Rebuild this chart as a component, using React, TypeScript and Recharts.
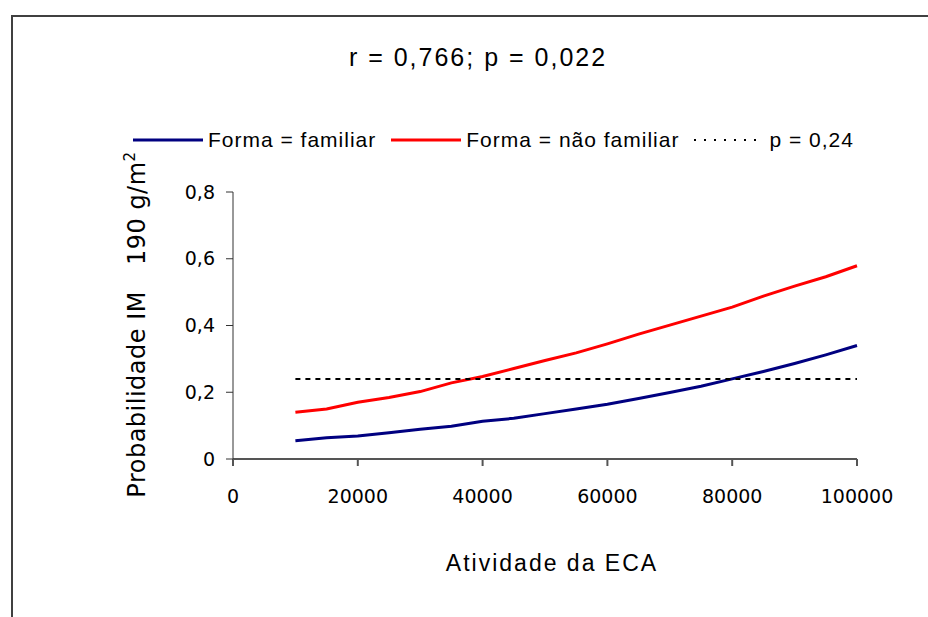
import { LineChart, Line, XAxis, YAxis, Customized } from "recharts";

// Atividade da ECA (eixo X)
const xValues = [
  10000, 15000, 20000, 25000, 30000, 35000, 40000, 45000, 50000, 55000,
  60000, 65000, 70000, 75000, 80000, 85000, 90000, 95000, 100000,
];
// Forma = familiar
const familiar = [
  0.055, 0.064, 0.069, 0.079, 0.089, 0.098, 0.113, 0.122, 0.136, 0.15,
  0.164, 0.181, 0.199, 0.218, 0.24, 0.262, 0.286, 0.312, 0.34,
];
// Forma = não familiar
const naoFamiliar = [
  0.14, 0.15, 0.17, 0.184, 0.202, 0.228, 0.247, 0.271, 0.295, 0.318,
  0.345, 0.374, 0.401, 0.428, 0.455, 0.488, 0.518, 0.546, 0.579,
];
const pLevel = 0.24;

const xTicks = [0, 20000, 40000, 60000, 80000, 100000];
const yTicks = [0, 0.2, 0.4, 0.6, 0.8];

const series = [
  { key: "familiar", name: "Forma = familiar", color: "#000080", dash: undefined, width: 3 },
  { key: "naoFamiliar", name: "Forma = não familiar", color: "#ff0000", dash: undefined, width: 3 },
  { key: "p", name: "p = 0,24", color: "#000000", dash: "5 5", width: 2 },
];

const data = xValues.map((x, i) => ({
  x,
  familiar: familiar[i],
  naoFamiliar: naoFamiliar[i],
  p: pLevel,
}));

const W = 928;
const H = 617;
const tickStyle = { fontFamily: "DejaVu Sans", fontSize: 19, fill: "#000" };
const fmtY = (v: number) => (v === 0 ? "0" : String(v).replace(".", ","));

function Title() {
  return (
    <text
      x={478}
      y={66}
      textAnchor="middle"
      fontFamily="Liberation Sans"
      fontSize={25}
      letterSpacing={2}
      fill="#000"
    >
      r = 0,766; p = 0,022
    </text>
  );
}

function YLabel(props: any) {
  const vb = props.viewBox || { x: 173, y: 192, width: 60, height: 267 };
  const bx = vb.x - 28;
  const cy = vb.y + vb.height / 2 - 1;
  return (
    <text
      x={bx}
      y={cy}
      transform={`rotate(-90, ${bx}, ${cy})`}
      textAnchor="middle"
      fontFamily="DejaVu Sans"
      fontSize={24}
      letterSpacing={0.5}
      fill="#000"
    >
      <tspan>Probabilidade IM</tspan>
      <tspan dx={26}>190 g/m</tspan>
      <tspan dy={-10} fontSize={15}>2</tspan>
    </text>
  );
}

function XLabel(props: any) {
  const vb = props.viewBox || { x: 233, y: 459, width: 624, height: 30 };
  return (
    <text
      x={vb.x + vb.width / 2 + 7}
      y={vb.y + 112}
      textAnchor="middle"
      fontFamily="Liberation Sans"
      fontSize={23}
      letterSpacing={2}
      fill="#000"
    >
      Atividade da ECA
    </text>
  );
}

function LegendRow() {
  return (
    <div
      style={{
        position: "absolute",
        left: 133,
        top: 128,
        display: "flex",
        alignItems: "center",
        fontFamily: "Liberation Sans",
        fontSize: 21,
        letterSpacing: 1,
        whiteSpace: "nowrap",
        lineHeight: "24px",
      }}
    >
      {series.map((s) => (
        <div key={s.key} style={{ display: "flex", alignItems: "center", marginRight: 15 }}>
          <svg width={70} height={10}>
            <line
              x1={0}
              y1={5}
              x2={70}
              y2={5}
              stroke={s.color}
              strokeWidth={s.dash ? 2 : 3}
              strokeDasharray={s.dash ? "2 8" : undefined}
            />
          </svg>
          <span style={{ marginLeft: 5 }}>{s.name}</span>
        </div>
      ))}
    </div>
  );
}

export default function App() {
  return (
    <div style={{ position: "relative", width: W, height: H, overflow: "hidden" }}>
      <style>{"body{margin:0;overflow:hidden}"}</style>
      <div
        style={{
          position: "absolute",
          left: 11,
          top: 15,
          width: 917,
          height: 602,
          borderTop: "2px solid #404040",
          borderLeft: "2px solid #404040",
          boxSizing: "border-box",
        }}
      />
      <LineChart
        width={W}
        height={H}
        data={data}
        margin={{ top: 192, right: 71, bottom: 128, left: 173 }}
      >
        <XAxis
          dataKey="x"
          type="number"
          domain={[0, 100000]}
          ticks={xTicks}
          height={30}
          tickSize={7}
          tickMargin={24}
          tick={tickStyle}
          stroke="#555"
          strokeWidth={2}
          interval={0}
          label={<XLabel />}
        />
        <YAxis
          type="number"
          domain={[0, 0.8]}
          ticks={yTicks}
          width={60}
          tickSize={7}
          tickMargin={11}
          tick={tickStyle}
          tickFormatter={fmtY}
          stroke="#333"
          interval={0}
          label={<YLabel />}
        />
        {series.map((s) => (
          <Line
            key={s.key}
            type="linear"
            dataKey={s.key}
            name={s.name}
            stroke={s.color}
            strokeWidth={s.width}
            strokeDasharray={s.dash}
            dot={false}
            activeDot={false}
            isAnimationActive={false}
          />
        ))}
        <Customized component={<Title />} />
      </LineChart>
      <LegendRow />
    </div>
  );
}
